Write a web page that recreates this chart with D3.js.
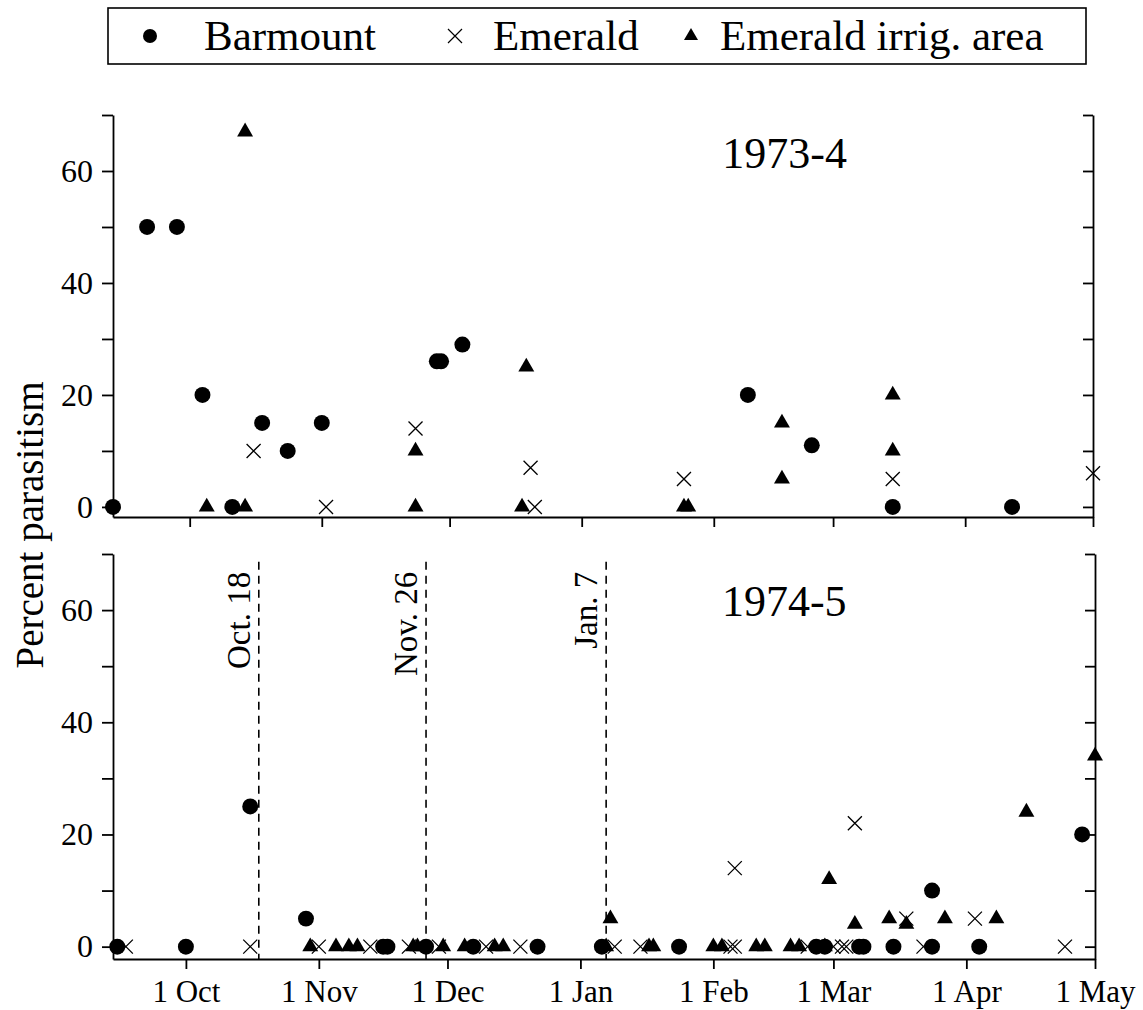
<!DOCTYPE html>
<html>
<head>
<meta charset="utf-8">
<script src="https://cdn.jsdelivr.net/npm/d3@7"></script>
<style>
  body { margin: 0; background: #fff; }
  svg { display: block; }
</style>
</head>
<body>
<div id="chart"></div>
<script>
// ---- data: [date, percent parasitism] ----
const barmount1973 = [
  ["1973-09-13", 0], ["1973-09-21", 50], ["1973-09-28", 50], ["1973-10-04", 20],
  ["1973-10-11", 0], ["1973-10-18", 15], ["1973-10-24", 10], ["1973-11-01", 15],
  ["1973-11-28", 26], ["1973-11-29", 26], ["1973-12-04", 29], ["1974-02-09", 20],
  ["1974-02-24", 11], ["1974-03-15", 0], ["1974-04-12", 0]
];
const emerald1973 = [
  ["1973-10-16", 10], ["1973-11-02", 0], ["1973-11-23", 14], ["1973-12-20", 7],
  ["1973-12-21", 0], ["1974-01-25", 5], ["1974-03-15", 5], ["1974-05-01", 6]
];
const irrig1973 = [
  ["1973-10-05", 0], ["1973-10-14", 67], ["1973-10-14", 0], ["1973-11-23", 10],
  ["1973-11-23", 0], ["1973-12-18", 0], ["1973-12-19", 25], ["1974-01-25", 0],
  ["1974-01-26", 0], ["1974-02-17", 15], ["1974-02-17", 5], ["1974-03-15", 20],
  ["1974-03-15", 10]
];

const barmount1974 = [
  ["1974-09-15", 0], ["1974-10-01", 0], ["1974-10-16", 25], ["1974-10-29", 5],
  ["1974-11-16", 0], ["1974-11-17", 0], ["1974-11-26", 0], ["1974-12-07", 0],
  ["1974-12-22", 0], ["1975-01-06", 0], ["1975-01-24", 0], ["1975-02-25", 0],
  ["1975-02-27", 0], ["1975-03-07", 0], ["1975-03-08", 0], ["1975-03-15", 0],
  ["1975-03-24", 0], ["1975-03-24", 10], ["1975-04-04", 0], ["1975-04-28", 20]
];
const emerald1974 = [
  ["1974-09-17", 0], ["1974-10-16", 0], ["1974-11-01", 0], ["1974-11-13", 0],
  ["1974-11-22", 0], ["1974-11-29", 0], ["1974-12-10", 0], ["1974-12-18", 0],
  ["1975-01-09", 0], ["1975-01-15", 0], ["1975-02-05", 0], ["1975-02-06", 0],
  ["1975-02-06", 14], ["1975-02-23", 0], ["1975-03-01", 0], ["1975-03-03", 0],
  ["1975-03-04", 0], ["1975-03-06", 22], ["1975-03-18", 5], ["1975-03-22", 0],
  ["1975-04-03", 5], ["1975-04-24", 0]
];
const irrig1974 = [
  ["1974-10-30", 0], ["1974-11-05", 0], ["1974-11-08", 0], ["1974-11-10", 0],
  ["1974-11-23", 0], ["1974-11-24", 0], ["1974-11-30", 0], ["1974-12-05", 0],
  ["1974-12-12", 0], ["1974-12-14", 0], ["1975-01-07", 0], ["1975-01-08", 5],
  ["1975-01-17", 0], ["1975-01-18", 0], ["1975-02-01", 0], ["1975-02-03", 0],
  ["1975-02-11", 0], ["1975-02-13", 0], ["1975-02-19", 0], ["1975-02-21", 0],
  ["1975-02-27", 0], ["1975-02-28", 12], ["1975-03-06", 4], ["1975-03-14", 5],
  ["1975-03-18", 4], ["1975-03-27", 5], ["1975-04-08", 5], ["1975-04-15", 24],
  ["1975-05-01", 34]
];

const markers1974 = [["1974-10-18", "Oct. 18"], ["1974-11-26", "Nov. 26"], ["1975-01-07", "Jan. 7"]];
const legendLabels = ["Barmount", "Emerald", "Emerald irrig. area"];
const yTicks = [0, 10, 20, 30, 40, 50, 60, 70];
const yLabelled = [0, 20, 40, 60];

const parseDate = d3.timeParse("%Y-%m-%d");
const serif = '"Liberation Serif"';

const svgWidth = 1143, svgHeight = 1010;
const svg = d3.select('#chart').append('svg')
  .attr('width', svgWidth)
  .attr('height', svgHeight);

// marker drawing
const crossPath = "M-7,-7L7,7M-7,7L7,-7";
const trianglePath = d3.symbol().type(d3.symbolTriangle).size(110)();
const circlePath = d3.symbol().type(d3.symbolCircle).size(200)();

function drawPoints(g, data, kind, x, y) {
  const sel = g.append('g').selectAll('path')
    .data(data)
    .join('path')
    .attr('transform', d => `translate(${x(parseDate(d[0]))},${y(d[1])})`);
  if (kind === 'circle') sel.attr('d', circlePath).attr('fill', '#000');
  if (kind === 'triangle') sel.attr('d', trianglePath).attr('fill', '#000');
  if (kind === 'cross') sel.attr('d', crossPath).attr('fill', 'none')
    .attr('stroke', '#000').attr('stroke-width', 1.3);
}

// panels
const panels = [
  { title: "1973-4", start: new Date(1973, 8, 13), end: new Date(1974, 4, 1),
    yRange: [517, 115], yMin: -1.8, xRange: [113, 1093], labels: false,
    barmount: barmount1973, emerald: emerald1973, irrig: irrig1973, titleY: 168 },
  { title: "1974-5", start: new Date(1974, 8, 14), end: new Date(1975, 4, 1),
    yRange: [959, 554], yMin: -2.2, xRange: [113, 1095], labels: true,
    barmount: barmount1974, emerald: emerald1974, irrig: irrig1974, titleY: 616 }
];

panels.forEach(p => {
  const x = d3.scaleTime().domain([p.start, p.end]).range(p.xRange);
  const y = d3.scaleLinear().domain([p.yMin, 70]).range(p.yRange);
  const g = svg.append('g');

  const monthTicks = d3.timeMonth.range(d3.timeMonth.ceil(p.start), d3.timeDay.offset(p.end, 1));

  // x axis
  const xAxis = d3.axisBottom(x)
    .tickValues(monthTicks)
    .tickSize(10)
    .tickSizeOuter(0)
    .tickPadding(11)
    .tickFormat(p.labels ? d3.timeFormat("%-d %b") : "");
  g.append('g')
    .attr('transform', `translate(0,${p.yRange[0]})`)
    .call(xAxis)
    .call(a => a.selectAll('text').attr('font-family', serif).attr('font-size', 31).attr('fill', '#000'));

  // left axis
  g.append('g')
    .attr('transform', `translate(${p.xRange[0]},0)`)
    .call(d3.axisLeft(y).tickValues(yTicks).tickSize(11).tickSizeOuter(0).tickPadding(9)
      .tickFormat(d => yLabelled.includes(d) ? d : ""))
    .call(a => a.selectAll('text').attr('font-family', serif).attr('font-size', 32).attr('fill', '#000'));

  // right axis, ticks pointing inward
  g.append('g')
    .attr('transform', `translate(${p.xRange[1]},0)`)
    .call(d3.axisLeft(y).tickValues(yTicks).tickSize(10).tickSizeOuter(0).tickFormat(""));

  g.selectAll('.domain, .tick line').attr('stroke', '#000').attr('stroke-width', 1.8);

  // title
  g.append('text')
    .attr('x', x(d3.timeDay.offset(monthTicks[3], 33)))
    .attr('y', p.titleY)
    .attr('font-family', serif)
    .attr('font-size', 44)
    .text(p.title);

  // treatment lines (second season only)
  if (p.labels) {
    markers1974.forEach(m => {
      const mx = x(parseDate(m[0]));
      g.append('line')
        .attr('x1', mx).attr('x2', mx)
        .attr('y1', y(68.6)).attr('y2', p.yRange[0])
        .attr('stroke', '#000').attr('stroke-width', 1.6)
        .attr('stroke-dasharray', '8,6');
      g.append('text')
        .attr('transform', `translate(${mx - 9},${y(68.6) + 10}) rotate(-90)`)
        .attr('text-anchor', 'end')
        .attr('font-family', serif)
        .attr('font-size', 33)
        .text(m[1]);
    });
  }

  drawPoints(g, p.irrig, 'triangle', x, y);
  drawPoints(g, p.emerald, 'cross', x, y);
  drawPoints(g, p.barmount, 'circle', x, y);
});

// y axis label
svg.append('text')
  .attr('transform', 'translate(43,525) rotate(-90)')
  .attr('text-anchor', 'middle')
  .attr('font-family', serif)
  .attr('font-size', 39)
  .text('Percent parasitism');

// legend
const legend = svg.append('g');
legend.append('rect')
  .attr('x', 108).attr('y', 8)
  .attr('width', 978).attr('height', 56)
  .attr('fill', 'none').attr('stroke', '#000').attr('stroke-width', 1.6);

const legendKinds = ['circle', 'cross', 'triangle'];
const legendX = [150, 455, 691];
legendLabels.forEach((label, i) => {
  const lg = legend.append('g').attr('transform', `translate(${legendX[i]},36)`);
  if (legendKinds[i] === 'circle') lg.append('circle').attr('r', 7).attr('fill', '#000');
  if (legendKinds[i] === 'triangle') lg.append('path').attr('d', d3.symbol().type(d3.symbolTriangle).size(85)()).attr('fill', '#000');
  if (legendKinds[i] === 'cross') lg.append('path').attr('d', "M-7,-7L7,7M-7,7L7,-7").attr('stroke', '#000').attr('stroke-width', 1.2);
  lg.append('text')
    .attr('x', i === 2 ? 29 : (i === 1 ? 38 : 54))
    .attr('y', 14)
    .attr('font-family', serif)
    .attr('font-size', 43)
    .text(label);
});
</script>
</body>
</html>
